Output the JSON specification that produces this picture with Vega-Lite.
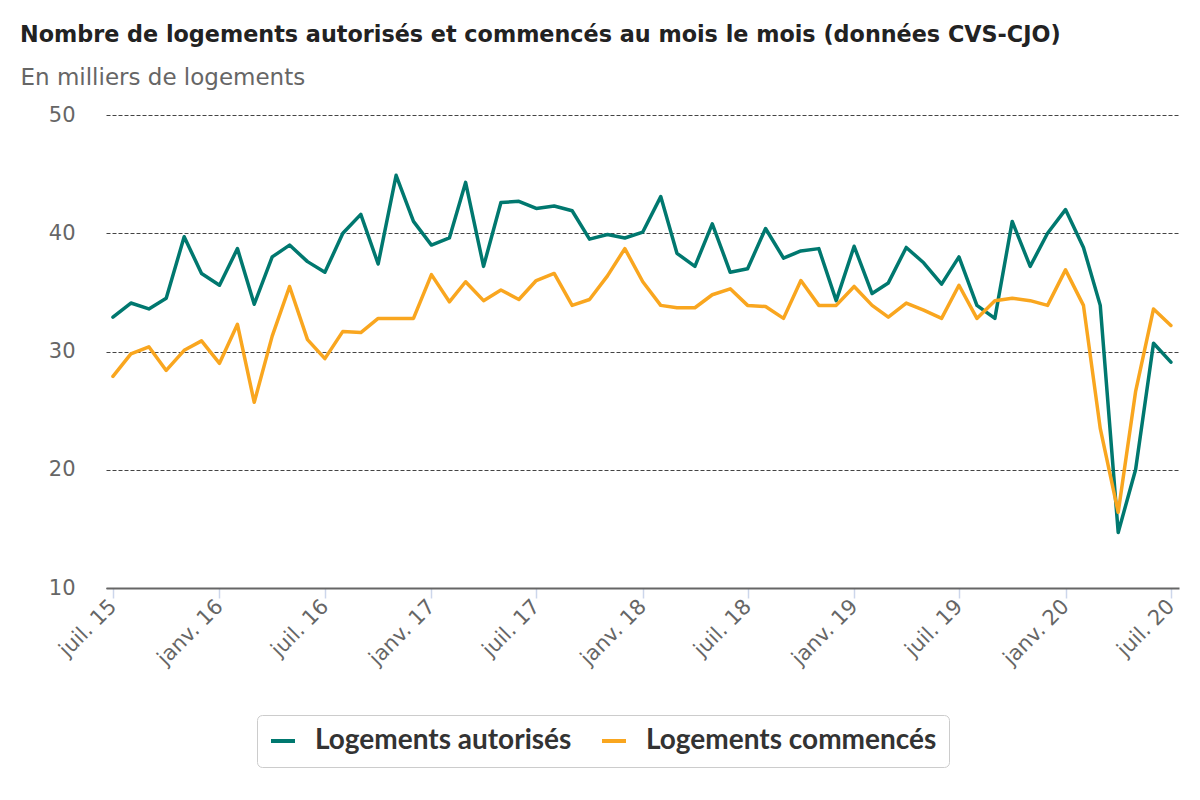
{
  "$schema": "https://vega.github.io/schema/vega-lite/v6.json",
  "autosize": {"type": "none"},
  "width": 1073,
  "height": 473,
  "padding": {"left": 106, "top": 115, "right": 21, "bottom": 212},
  "background": "white",
  "title": {
    "text": "Nombre de logements autorisés et commencés au mois le mois (données CVS-CJO)",
    "anchor": "start",
    "frame": "group",
    "dx": -86,
    "offset": 20,
    "font": "DejaVu Sans",
    "fontSize": 22.3,
    "fontWeight": "bold",
    "color": "#222222"
  },
  "data": {
    "values": [
      {"date": "2015-07-01", "a": 32.9, "c": 27.9},
      {"date": "2015-08-01", "a": 34.1, "c": 29.8},
      {"date": "2015-09-01", "a": 33.6, "c": 30.4},
      {"date": "2015-10-01", "a": 34.5, "c": 28.4},
      {"date": "2015-11-01", "a": 39.7, "c": 30.1},
      {"date": "2015-12-01", "a": 36.6, "c": 30.9},
      {"date": "2016-01-01", "a": 35.6, "c": 29.0},
      {"date": "2016-02-01", "a": 38.7, "c": 32.3},
      {"date": "2016-03-01", "a": 34.0, "c": 25.7},
      {"date": "2016-04-01", "a": 38.0, "c": 31.3},
      {"date": "2016-05-01", "a": 39.0, "c": 35.5},
      {"date": "2016-06-01", "a": 37.6, "c": 31.0},
      {"date": "2016-07-01", "a": 36.7, "c": 29.4},
      {"date": "2016-08-01", "a": 40.0, "c": 31.7},
      {"date": "2016-09-01", "a": 41.6, "c": 31.6},
      {"date": "2016-10-01", "a": 37.4, "c": 32.8},
      {"date": "2016-11-01", "a": 44.9, "c": 32.8},
      {"date": "2016-12-01", "a": 41.0, "c": 32.8},
      {"date": "2017-01-01", "a": 39.0, "c": 36.5},
      {"date": "2017-02-01", "a": 39.6, "c": 34.2},
      {"date": "2017-03-01", "a": 44.3, "c": 35.9},
      {"date": "2017-04-01", "a": 37.2, "c": 34.3},
      {"date": "2017-05-01", "a": 42.6, "c": 35.2},
      {"date": "2017-06-01", "a": 42.7, "c": 34.4},
      {"date": "2017-07-01", "a": 42.1, "c": 36.0},
      {"date": "2017-08-01", "a": 42.3, "c": 36.6},
      {"date": "2017-09-01", "a": 41.9, "c": 33.9},
      {"date": "2017-10-01", "a": 39.5, "c": 34.4},
      {"date": "2017-11-01", "a": 39.9, "c": 36.4},
      {"date": "2017-12-01", "a": 39.6, "c": 38.7},
      {"date": "2018-01-01", "a": 40.1, "c": 35.9},
      {"date": "2018-02-01", "a": 43.1, "c": 33.9},
      {"date": "2018-03-01", "a": 38.3, "c": 33.7},
      {"date": "2018-04-01", "a": 37.2, "c": 33.7},
      {"date": "2018-05-01", "a": 40.8, "c": 34.8},
      {"date": "2018-06-01", "a": 36.7, "c": 35.3},
      {"date": "2018-07-01", "a": 37.0, "c": 33.9},
      {"date": "2018-08-01", "a": 40.4, "c": 33.8},
      {"date": "2018-09-01", "a": 37.9, "c": 32.8},
      {"date": "2018-10-01", "a": 38.5, "c": 36.0},
      {"date": "2018-11-01", "a": 38.7, "c": 33.9},
      {"date": "2018-12-01", "a": 34.3, "c": 33.9},
      {"date": "2019-01-01", "a": 38.9, "c": 35.5},
      {"date": "2019-02-01", "a": 34.9, "c": 33.9},
      {"date": "2019-03-01", "a": 35.8, "c": 32.9},
      {"date": "2019-04-01", "a": 38.8, "c": 34.1},
      {"date": "2019-05-01", "a": 37.5, "c": 33.5},
      {"date": "2019-06-01", "a": 35.7, "c": 32.8},
      {"date": "2019-07-01", "a": 38.0, "c": 35.6},
      {"date": "2019-08-01", "a": 33.9, "c": 32.8},
      {"date": "2019-09-01", "a": 32.8, "c": 34.3},
      {"date": "2019-10-01", "a": 41.0, "c": 34.5},
      {"date": "2019-11-01", "a": 37.2, "c": 34.3},
      {"date": "2019-12-01", "a": 40.0, "c": 33.9},
      {"date": "2020-01-01", "a": 42.0, "c": 36.9},
      {"date": "2020-02-01", "a": 38.8, "c": 33.9},
      {"date": "2020-03-01", "a": 33.9, "c": 23.5},
      {"date": "2020-04-01", "a": 14.7, "c": 16.4},
      {"date": "2020-05-01", "a": 20.0, "c": 26.6},
      {"date": "2020-06-01", "a": 30.7, "c": 33.6},
      {"date": "2020-07-01", "a": 29.1, "c": 32.2}
    ]
  },
  "transform": [
    {"fold": ["a", "c"], "as": ["key", "valeur"]},
    {"lookup": "key", "from": {"data": {"values": [
      {"key": "a", "serie": "Logements autorisés"},
      {"key": "c", "serie": "Logements commencés"}
    ]}, "key": "key", "fields": ["serie"]}}
  ],
  "mark": {"type": "line", "strokeWidth": 3.5, "strokeJoin": "round", "strokeCap": "round"},
  "encoding": {
    "x": {
      "field": "date",
      "type": "temporal",
      "scale": {
        "type": "utc",
        "domain": [
          {"year": 2015, "month": 6, "date": 19, "utc": true},
          {"year": 2020, "month": 7, "date": 15, "utc": true}
        ]
      },
      "axis": {
        "title": null,
        "values": [
          {"year": 2015, "month": 7, "date": 1, "utc": true},
          {"year": 2016, "month": 1, "date": 1, "utc": true},
          {"year": 2016, "month": 7, "date": 1, "utc": true},
          {"year": 2017, "month": 1, "date": 1, "utc": true},
          {"year": 2017, "month": 7, "date": 1, "utc": true},
          {"year": 2018, "month": 1, "date": 1, "utc": true},
          {"year": 2018, "month": 7, "date": 1, "utc": true},
          {"year": 2019, "month": 1, "date": 1, "utc": true},
          {"year": 2019, "month": 7, "date": 1, "utc": true},
          {"year": 2020, "month": 1, "date": 1, "utc": true},
          {"year": 2020, "month": 7, "date": 1, "utc": true}
        ],
        "labelExpr": "(utcmonth(datum.value) == 6 ? 'juil. ' : 'janv. ') + substring(toString(utcyear(datum.value)), 2)",
        "labelAngle": -45,
        "labelAlign": "right",
        "labelBaseline": "middle",
        "labelPadding": 5,
        "labelFont": "DejaVu Sans",
        "labelFontSize": 21,
        "labelColor": "#666666",
        "labelOverlap": false,
        "labelFlush": false,
        "domainColor": "#666666",
        "domainWidth": 2,
        "tickColor": "#ccd6eb",
        "tickWidth": 1.5,
        "tickSize": 10,
        "grid": false
      }
    },
    "y": {
      "field": "valeur",
      "type": "quantitative",
      "scale": {"domain": [10, 50], "nice": false, "zero": false},
      "axis": {
        "values": [10, 20, 30, 40, 50],
        "title": "En milliers de logements",
        "titleAngle": 0,
        "titleAlign": "left",
        "titleBaseline": "alphabetic",
        "titleX": -86,
        "titleY": -31,
        "titleFont": "DejaVu Sans",
        "titleFontSize": 23,
        "titleFontWeight": "normal",
        "titleColor": "#666666",
        "labelFont": "DejaVu Sans",
        "labelFontSize": 21,
        "labelColor": "#666666",
        "labelPadding": 31,
        "ticks": false,
        "domain": false,
        "grid": true,
        "gridColor": "#444444",
        "gridWidth": 1,
        "gridDash": [4, 2]
      }
    },
    "color": {
      "field": "serie",
      "type": "nominal",
      "scale": {
        "domain": ["Logements autorisés", "Logements commencés"],
        "range": ["#00786f", "#f9a61f"]
      },
      "legend": {
        "title": null,
        "orient": "none",
        "legendX": 151,
        "legendY": 600,
        "direction": "horizontal",
        "fillColor": "white",
        "strokeColor": "#cccccc",
        "cornerRadius": 5,
        "padding": 12,
        "symbolType": "stroke",
        "symbolSize": 576,
        "symbolStrokeWidth": 4,
        "labelFont": "Lato",
        "labelFontSize": 28,
        "labelFontWeight": "bold",
        "labelColor": "#333333",
        "labelOffset": 18,
        "columnPadding": 22,
        "labelLimit": 400
      }
    }
  },
  "config": {"view": {"stroke": null}}
}
